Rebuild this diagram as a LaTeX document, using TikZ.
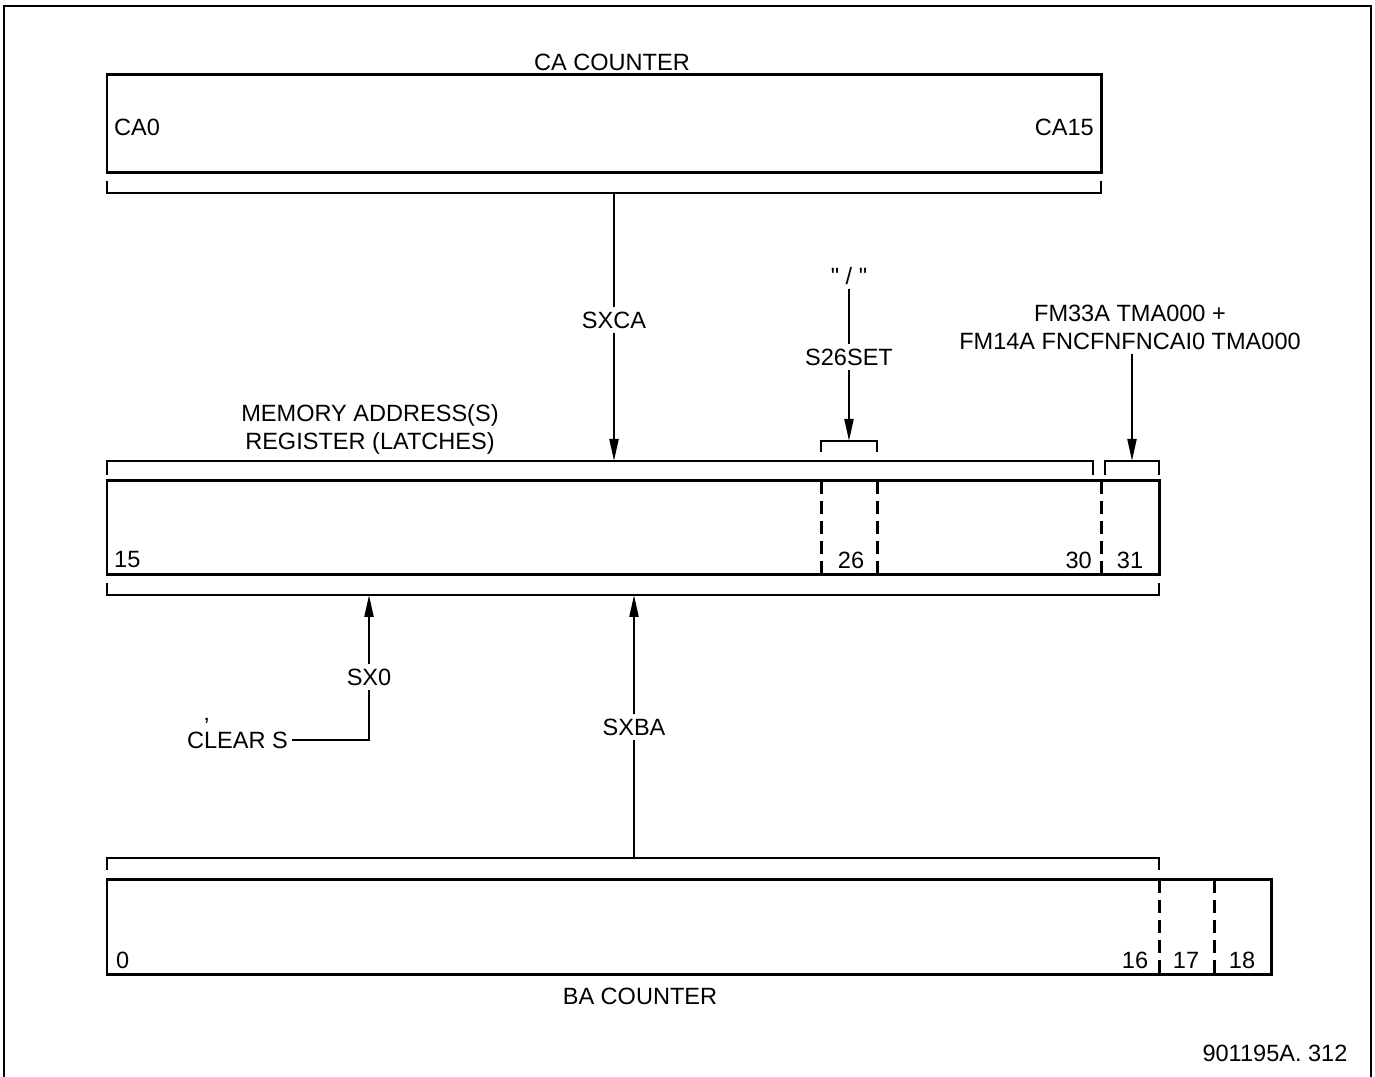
\documentclass[tikz,border=0pt]{standalone}
\usepackage{fontspec}
\setmainfont{Liberation Sans}
\usetikzlibrary{arrows.meta}

\tikzset{
  reg/.style={line width=0.85pt},
  brk/.style={line width=0.6pt},
  sep/.style={line width=0.85pt, dash pattern=on 1.3mm off 0.7mm},
  wire/.style={line width=0.6pt},
  sig/.style={line width=0.6pt, -{Triangle[length=2.2mm,width=0.9mm]}},
  lbl/.style={inner sep=1pt, font=\fontsize{6.7}{8}\selectfont},
}

\begin{document}
\begin{tikzpicture}[x=0.1mm,y=-0.1mm]

\useasboundingbox (0,0) rectangle (1375,1077);
\draw[line width=0.8pt] (4,1077) -- (4,6) -- (1371,6) -- (1371,1077);

% CA counter
\draw[reg] (107,75) rectangle (1101,173);
\node[lbl] (catitle) at (612,62) {CA COUNTER};
\node[lbl,anchor=west] (ca0) at (110,127) {CA0};
\node[lbl,anchor=east] (ca15) at (1098,127) {CA15};
\draw[brk] (107,181) -- (107,193) -- (1101,193) -- (1101,181);
\coordinate (cabr) at (614,193);

% memory address register
\node[lbl,align=center] (matitle) at (370,429) {MEMORY ADDRESS(S)\\REGISTER (LATCHES)};
\draw[reg] (107,481) rectangle (1159,575);
\draw[sep] (821,481) -- (821,575);
\draw[sep] (877,481) -- (877,575);
\draw[sep] (1101,481) -- (1101,575);
\draw[brk] (107,475) -- (107,461) -- (1093,461) -- (1093,475);
\draw[brk] (1105,475) -- (1105,461) -- (1159,461) -- (1159,475);
\draw[brk] (821,452) -- (821,441) -- (877,441) -- (877,452);
\draw[brk] (107,583) -- (107,595) -- (1159,595) -- (1159,583);
\coordinate (matop) at (614,461);
\coordinate (s26br) at (849,441);
\coordinate (b31br) at (1132,461);
\coordinate (masx0) at (369,595);
\coordinate (masxba) at (634,595);
\node[lbl,anchor=west] (m15) at (110,560) {15};
\node[lbl] (m26) at (851,560) {26};
\node[lbl,anchor=east] (m30) at (1096,560) {30};
\node[lbl] (m31) at (1130,560) {31};

% CA -> S
\node[lbl] (sxca) at (614,320) {SXCA};
\draw[wire] (cabr) -- (sxca);
\draw[sig] (sxca) -- (matop);

% bit 26
\node[lbl] (slash) at (849,276) {\textquotedbl\ /\ \textquotedbl};
\node[lbl] (s26set) at (849,357) {S26SET};
\draw[wire] (slash) -- (s26set);
\draw[sig] (s26set) -- (s26br);

% bit 31
\node[lbl,align=center] (fm) at (1130,327) {FM33A TMA000 +\\FM14A FNCFNFNCAI0 TMA000};
\draw[sig] (fm.south -| b31br) -- (b31br);

% clear
\node[lbl] (sx0) at (369,677) {SX0};
\node[lbl,anchor=east] (clears) at (292,740) {C\rlap{\smash{\raisebox{1.1ex}{'}}}LEAR S};
\coordinate (clrc) at (369,740);
\draw[wire] (clears.east |- clrc) -- (clrc) -- (sx0);
\draw[sig] (sx0) -- (masx0);

% BA counter
\draw[reg] (107,880) rectangle (1271,975);
\draw[sep] (1159,880) -- (1159,975);
\draw[sep] (1214,880) -- (1214,975);
\draw[brk] (107,870) -- (107,858) -- (1159,858) -- (1159,870);
\coordinate (babr) at (634,858);
\node[lbl,anchor=west] (b0) at (112,960) {0};
\node[lbl] (b16) at (1135,960) {16};
\node[lbl] (b17) at (1186,960) {17};
\node[lbl] (b18) at (1242,960) {18};
\node[lbl] (batitle) at (640,996) {BA COUNTER};

\node[lbl] (sxba) at (634,727) {SXBA};
\draw[wire] (babr) -- (sxba);
\draw[sig] (sxba) -- (masxba);

\node[lbl] (figno) at (1275,1053) {901195A. 312};

\end{tikzpicture}
\end{document}
